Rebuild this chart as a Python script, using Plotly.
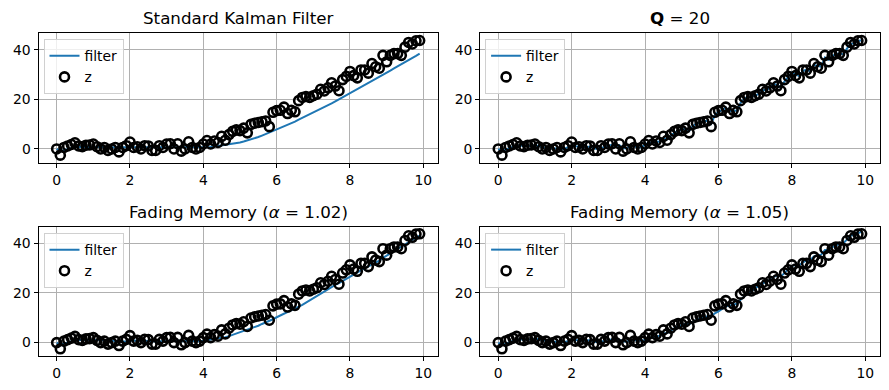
import plotly.graph_objects as go

t = [round(i * 0.1, 1) for i in range(100)]

z = [0.0, -2.5, 0.6, 1.2, 1.8, 2.5, 1.2, 0.9, 1.5, 1.6,
     2.0, 0.9, 0.0, 0.6, -0.6, 0.0, 0.6, -1.2, 0.6, 1.3,
     2.8, 0.6, 0.9, 0.0, 1.3, 1.2, -0.6, -0.6, 1.3, 0.6,
     2.0, 2.1, 0.0, 2.1, -0.9, 0.0, 2.9, 0.6, 0.0, 0.6,
     2.0, 3.4, 2.0, 3.2, 2.6, 5.1, 3.5, 5.8, 7.1, 7.7,
     7.4, 8.4, 6.5, 9.9, 10.4, 10.7, 11.0, 11.3, 9.0, 14.8,
     15.5, 15.6, 16.9, 14.3, 15.6, 15.0, 19.5, 20.8, 21.2, 20.8,
     21.5, 22.1, 24.1, 23.4, 24.7, 26.7, 25.4, 23.5, 28.0, 29.3,
     31.3, 29.6, 28.7, 31.9, 31.9, 30.6, 34.5, 33.2, 32.6, 37.8,
     35.2, 37.8, 38.5, 38.5, 37.8, 41.1, 43.0, 42.4, 43.7, 43.8]

filt_standard = [0.0, -0.9, -0.5, 0.0, 0.4, 0.8, 0.9, 0.9, 1.0, 1.0,
                 1.1, 1.1, 1.0, 0.9, 0.8, 0.7, 0.7, 0.5, 0.5, 0.5,
                 0.7, 0.7, 0.7, 0.6, 0.7, 0.7, 0.6, 0.5, 0.5, 0.5,
                 0.6, 0.7, 0.6, 0.7, 0.6, 0.5, 0.6, 0.6, 0.5, 0.5,
                 0.6, 0.7, 0.8, 1.0, 1.2, 1.4, 1.6, 1.9, 2.1, 2.3,
                 2.6, 3.0, 3.4, 3.8, 4.3, 4.8, 5.4, 6.0, 6.6, 7.2,
                 7.8, 8.4, 9.0, 9.6, 10.3, 11.0, 11.8, 12.5, 13.2, 14.0,
                 14.7, 15.4, 16.1, 16.8, 17.6, 18.4, 19.2, 20.0, 20.8, 21.6,
                 22.5, 23.3, 24.1, 24.9, 25.7, 26.5, 27.4, 28.2, 29.1, 29.9,
                 30.8, 31.6, 32.5, 33.3, 34.2, 35.0, 35.9, 36.8, 37.6, 38.5]

filt_q20 = [0.0, -1.0, -0.3, 0.4, 0.9, 1.4, 1.3, 1.1, 1.2, 1.3,
            1.5, 1.2, 0.7, 0.6, 0.2, 0.1, 0.3, -0.3, 0.0, 0.6,
            1.5, 1.1, 1.0, 0.5, 0.8, 1.0, 0.3, 0.0, 0.6, 0.6,
            1.3, 1.7, 0.9, 1.5, 0.4, 0.2, 1.5, 1.0, 0.6, 0.7,
            1.6, 2.7, 2.3, 3.0, 2.9, 4.4, 3.9, 5.3, 6.6, 7.4,
            7.5, 8.3, 7.2, 9.3, 10.2, 10.7, 11.1, 11.4, 10.1, 13.6,
            15.1, 15.6, 16.7, 15.2, 15.6, 15.3, 18.5, 20.3, 21.1, 21.1,
            21.6, 22.2, 23.8, 23.7, 24.7, 26.3, 25.9, 24.6, 27.3, 29.0,
            30.9, 30.2, 29.4, 31.5, 32.0, 31.3, 33.9, 33.6, 33.2, 36.9,
            36.0, 37.5, 38.4, 38.6, 38.2, 40.5, 42.5, 42.6, 43.6, 43.9]

filt_fm102 = [0.0, -0.9, -0.4, 0.1, 0.5, 0.9, 1.0, 1.0, 1.1, 1.1,
              1.3, 1.2, 1.0, 0.9, 0.7, 0.6, 0.6, 0.4, 0.4, 0.5,
              0.8, 0.8, 0.8, 0.6, 0.7, 0.8, 0.6, 0.4, 0.5, 0.5,
              0.7, 0.8, 0.6, 0.8, 0.5, 0.4, 0.6, 0.6, 0.5, 0.5,
              0.7, 0.9, 1.1, 1.4, 1.6, 2.0, 2.2, 2.6, 3.1, 3.6,
              4.1, 4.6, 5.0, 5.6, 6.2, 6.8, 7.5, 8.1, 8.6, 9.4,
              10.2, 10.9, 11.7, 12.3, 12.9, 13.5, 14.3, 15.2, 16.1, 17.0,
              17.9, 18.8, 19.8, 20.6, 21.5, 22.4, 23.2, 23.9, 24.8, 25.7,
              26.7, 27.5, 28.2, 29.1, 29.9, 30.6, 31.5, 32.3, 33.0, 34.1,
              34.9, 35.9, 36.8, 37.7, 38.5, 39.5, 40.5, 41.4, 42.3, 43.1]

filt_fm105 = [0.0, -1.0, -0.4, 0.2, 0.7, 1.2, 1.2, 1.1, 1.2, 1.3,
              1.5, 1.3, 0.9, 0.8, 0.4, 0.3, 0.4, -0.1, 0.1, 0.5,
              1.2, 1.0, 1.0, 0.6, 0.8, 0.9, 0.4, 0.1, 0.5, 0.5,
              1.0, 1.3, 0.8, 1.2, 0.5, 0.3, 1.1, 0.9, 0.6, 0.6,
              1.2, 2.0, 2.1, 2.6, 2.8, 3.8, 3.9, 4.8, 5.9, 6.8,
              7.0, 7.6, 7.4, 8.3, 9.1, 9.7, 10.2, 10.6, 10.5, 11.8,
              12.6, 13.6, 14.6, 14.8, 15.3, 15.6, 17.2, 18.7, 19.9, 20.6,
              22.0, 22.7, 23.9, 24.4, 25.2, 26.5, 26.9, 26.6, 28.1, 29.4,
              30.9, 31.2, 31.1, 32.3, 33.0, 33.2, 34.7, 35.2, 35.4, 37.3,
              37.4, 38.4, 39.2, 39.8, 40.0, 41.5, 43.0, 43.5, 44.2, 44.6]

titles = ["Standard Kalman Filter", "<b>Q</b> = 20",
          "Fading Memory (<i>α</i> = 1.02)", "Fading Memory (<i>α</i> = 1.05)"]
filters = [filt_standard, filt_q20, filt_fm102, filt_fm105]
x_ticks = [0, 2, 4, 6, 8, 10]
y_ticks = [0, 20, 40]

# The page body has an 8 px margin, so the figure starts at (8, 8)
OFF = 8
W, H = 889 - 2 * OFF, 390 - 2 * OFF
FONT = "DejaVu Sans"
BLUE = "#1f77b4"
FS = 13.9

# pixel boxes in window coordinates (left, right, top, bottom)
boxes = [(38.5, 437.8, 33.3, 163.3), (480.1, 879.8, 33.3, 163.3),
         (38.5, 437.8, 227.1, 356.0), (480.1, 879.8, 227.1, 356.0)]
yranges = [[-5.8, 46.7], [-5.8, 46.7], [-5.4, 46.5], [-5.4, 46.5]]


def px(xp):
    return (xp - OFF) / W


def py(yp):
    return 1 - (yp - OFF) / H


fig = go.Figure()
layout = dict(width=W, height=H, margin=dict(l=0, r=0, t=0, b=0),
              paper_bgcolor="white", plot_bgcolor="white",
              font=dict(family=FONT, size=FS, color="black"),
              showlegend=True, annotations=[])

for k in range(4):
    xa = "x" if k == 0 else f"x{k+1}"
    ya = "y" if k == 0 else f"y{k+1}"
    lg = "legend" if k == 0 else f"legend{k+1}"
    l, r, tp, bt = boxes[k]
    fig.add_trace(go.Scatter(x=t, y=filters[k], mode="lines", name="filter",
                             line=dict(color=BLUE, width=2),
                             xaxis=xa, yaxis=ya, legend=lg))
    fig.add_trace(go.Scatter(x=t, y=z, mode="markers", name="z",
                             marker=dict(symbol="circle-open", size=9, color="black",
                                         line=dict(width=2.6, color="black")),
                             xaxis=xa, yaxis=ya, legend=lg))
    axcommon = dict(showgrid=True, gridcolor="#b0b0b0", gridwidth=1,
                    zeroline=False, showline=True, linecolor="black", linewidth=1,
                    mirror=True, ticks="outside", ticklen=4, tickwidth=1,
                    tickcolor="black", tickfont=dict(family=FONT, size=FS, color="black"))
    layout["xaxis" if k == 0 else f"xaxis{k+1}"] = dict(
        domain=[px(l), px(r)], anchor=ya, range=[-0.495, 10.395],
        tickmode="array", tickvals=x_ticks, ticktext=[str(v) for v in x_ticks], **axcommon)
    layout["yaxis" if k == 0 else f"yaxis{k+1}"] = dict(
        domain=[py(bt), py(tp)], anchor=xa, range=yranges[k],
        tickmode="array", tickvals=y_ticks, ticktext=[str(v) for v in y_ticks], **axcommon)
    layout[lg] = dict(x=px(l + 5), y=py(tp + 6), xanchor="left", yanchor="top",
                      bgcolor="rgba(255,255,255,0.8)", bordercolor="#d0d0d0", borderwidth=1,
                      font=dict(family=FONT, size=FS, color="black"),
                      itemwidth=30, tracegroupgap=2)
    layout["annotations"].append(dict(
        text=titles[k], x=px((l + r) / 2), y=py(tp - 15), xref="paper", yref="paper",
        xanchor="center", yanchor="middle", showarrow=False,
        font=dict(family=FONT, size=16.7, color="black")))

fig.update_layout(**layout)
fig.write_html("out.html")
